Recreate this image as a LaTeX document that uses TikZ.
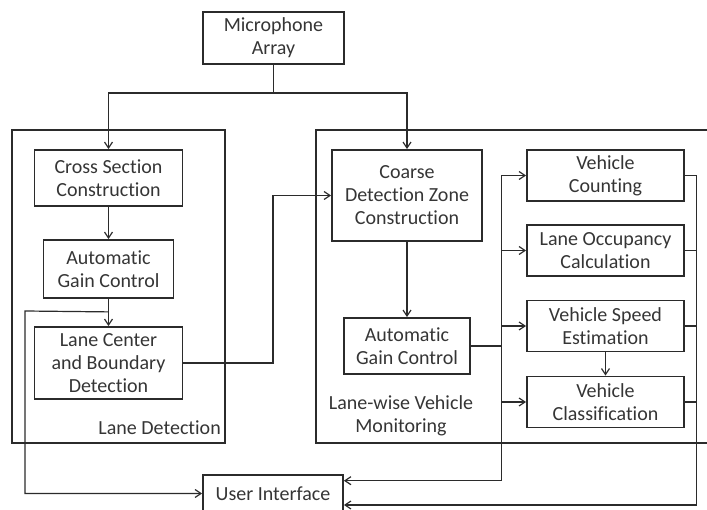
\documentclass[tikz,border=0pt]{standalone}
\usepackage{fontspec}
\setmainfont{Carlito}[Ligatures=NoCommon]
\usetikzlibrary{arrows.meta}
\definecolor{ln}{HTML}{2B2B2B}
\definecolor{tx}{HTML}{353535}
\begin{document}
\begin{tikzpicture}[x=1pt,y=-1pt,
  box/.style={draw=ln,line width=1.8pt,align=center,text=tx,font=\fontsize{20}{23}\selectfont,inner sep=0pt},
  lbl/.style={align=center,text=tx,font=\fontsize{20}{23}\selectfont,inner sep=0pt},
  conn/.style={draw=ln,line width=1.2pt},
  arr/.style={conn,-{Straight Barb[length=6pt,width=8pt,line width=1.2pt]}}]
\useasboundingbox (0,0) rectangle (707,510);
% containers
\node[box,minimum width=213pt,minimum height=313pt] (ld) at (118.5,286.5) {};
\node[box,minimum width=414pt,minimum height=313pt] (lw) at (523,286.5) {};
% boxes
\node[box,minimum width=141pt,minimum height=52pt] (mic) at (273.5,38) {Microphone\\Array};
\node[box,minimum width=148pt,minimum height=56pt] (cross) at (108.5,178) {Cross Section\\Construction};
\node[box,minimum width=130pt,minimum height=58pt] (agc1) at (108.5,269) {Automatic\\Gain Control};
\node[box,minimum width=148pt,minimum height=72pt] (lcb) at (108.5,363) {Lane Center\\and Boundary\\Detection};
\node[box,minimum width=150pt,minimum height=91pt] (coarse) at (407,195.5) {Coarse\\Detection Zone\\Construction};
\node[box,minimum width=126pt,minimum height=56pt] (agc2) at (407,346) {Automatic\\Gain Control};
\node[box,minimum width=157pt,minimum height=51pt] (vc) at (605.5,175.5) {Vehicle\\Counting};
\node[box,minimum width=157pt,minimum height=51pt] (lo) at (605.5,250.5) {Lane Occupancy\\Calculation};
\node[box,minimum width=157pt,minimum height=51pt] (vs) at (605.5,326) {Vehicle Speed\\Estimation};
\node[box,minimum width=157pt,minimum height=51pt] (vcl) at (605.5,402) {Vehicle\\Classification};
\node[box,minimum width=140pt,minimum height=37pt] (ui) at (273,493.5) {User Interface};
% labels
\node[lbl,anchor=east] (ldl) at (221,428) {Lane Detection};
\node[lbl] (lwl) at (401,416) {Lane-wise Vehicle\\Monitoring};
% connectors
\draw[conn] (mic.south) -- (273.5,93) coordinate (j0);
\draw[arr] (j0) -| (cross.north);
\draw[arr] (j0) -| (coarse.north);
\draw[arr] (cross) -- (agc1);
\draw[arr] (agc1) -- (lcb);
\path (agc1.south) ++(0,13) coordinate (fb);
\draw[arr] (fb) -- (25,311) |- (ui.west);
\draw[arr] (lcb.east) -- (273,363) |- (coarse.west);
\draw[arr] (coarse) -- (agc2);
\coordinate (lbx) at (501.7,0);
\coordinate (rbx) at (696.7,0);
\coordinate (lbb) at (501.7,480.7);
\coordinate (rbb) at (696.7,505);
\draw[conn] (agc2.east) -- (agc2.east -| lbx);
\draw[arr] (vc.west -| lbx) -- (vc.west);
\draw[arr] (lo.west -| lbx) -- (lo.west);
\draw[arr] (vs.west -| lbx) -- (vs.west);
\draw[arr] (vcl.west -| lbx) -- (vcl.west);
\draw[arr] (vc.west -| lbx) -- (lbb) -- (lbb -| ui.east);
\draw[conn] (vc.east) -- (vc.east -| rbx);
\draw[conn] (lo.east) -- (lo.east -| rbx);
\draw[conn] (vs.east) -- (vs.east -| rbx);
\draw[conn] (vcl.east) -- (vcl.east -| rbx);
\draw[arr] (vc.east -| rbx) -- (rbb) -- (rbb -| ui.east);
\draw[arr] (vs) -- (vcl);
\end{tikzpicture}
\end{document}
